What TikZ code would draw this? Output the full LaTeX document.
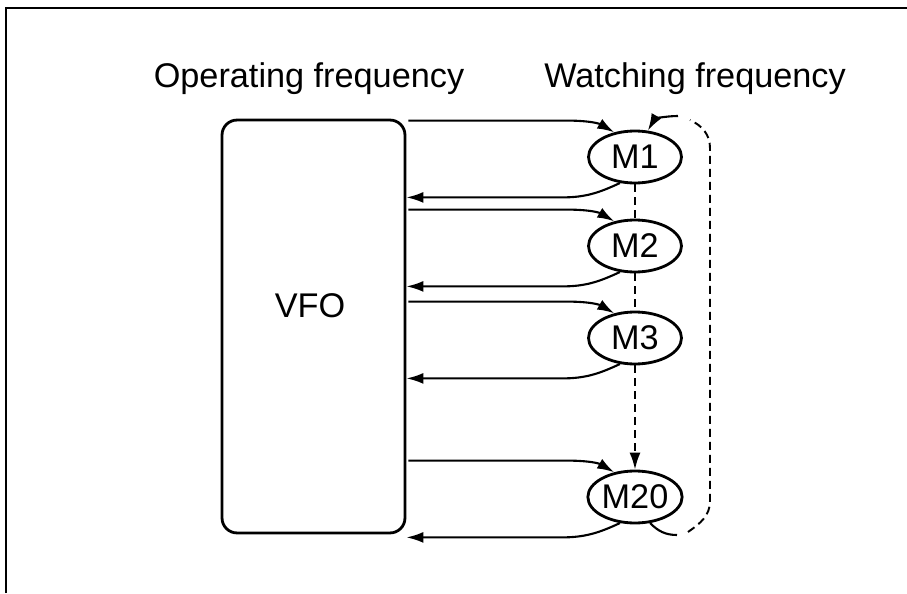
\documentclass[tikz,border=0pt]{standalone}
\usepackage{fontspec}
\setmainfont{Liberation Sans}
\usetikzlibrary{positioning,calc,shapes.geometric,arrows.meta}

\begin{document}
\begin{tikzpicture}[x=0.02cm, y=0.02cm,
    every node/.style={font=\fontsize{19.5pt}{23pt}\selectfont},
    box/.style={draw, line width=1.6pt, rounded corners=0.3cm,
      minimum width=3.66cm, minimum height=8.26cm},
    mem/.style={draw, ellipse, line width=1.6pt, inner sep=0pt,
      minimum width=1.86cm, minimum height=1.04cm},
    flow/.style={line width=1.2pt, -{Latex[length=0.34cm, width=0.22cm]}},
    chain/.style={line width=1.1pt, dash pattern=on 0.16cm off 0.1cm}]

  % page
  \useasboundingbox (0,0) rectangle (907,593);
  \draw[line width=0.8pt] (6,0) -- (6,585) -- (907,585);

  % titles
  \node[anchor=base] (optitle) at (309,506) {Operating frequency};
  \node[anchor=base east] (wtitle) at (852,506) {Watching frequency};

  % vfo and memories
  \node[box] (vfo) at (313.5,266.5) {};
  \node (vfotext) at (310,287) {VFO};
  \node[mem] (m1)  at (635,436) {M1};
  \node[mem] (m2)  at (635,347) {M2};
  \node[mem] (m3)  at (635,255) {M3};
  \node[mem] (m20) at (635,96)  {M20};

  % transfers to and from the vfo
  \foreach \m in {m1,m2,m3,m20}{
    \coordinate (\m-out)  at ($(vfo.east |- \m.north)+(2,9)$);
    \coordinate (\m-back) at ($(vfo.east |- \m.south)+(0,-13)$);
    \draw[flow] (\m-out) -- ($(\m-out -| \m.west)+(-20,0)$) to[out=0,in=150] (\m.130);
    \draw[flow] (\m.240) to[out=205,in=0] ($(\m-back -| \m.west)+(-25,0)$) -- (\m-back);
  }

  % scan chain
  \draw[chain] (m1) -- (m2);
  \draw[chain] (m2) -- (m3);
  \draw[chain, -{Latex[length=0.34cm, width=0.22cm]}] (m3) -- (m20);

  % return loop
  \coordinate (loopbot) at (677,58);
  \coordinate (dashbot) at (688,61);
  \coordinate (dashtop) at (690,473);
  \coordinate (looptop) at (678,477);
  \draw[line width=1.2pt] (m20.300) to[out=-45,in=180] (loopbot);
  \draw[chain] (dashbot) to[out=35,in=-90] (710,92) -- (710,445) to[out=90,in=-25] (dashtop);
  \draw[flow] (looptop) to[out=180,in=60] (m1.64);
\end{tikzpicture}
\end{document}
